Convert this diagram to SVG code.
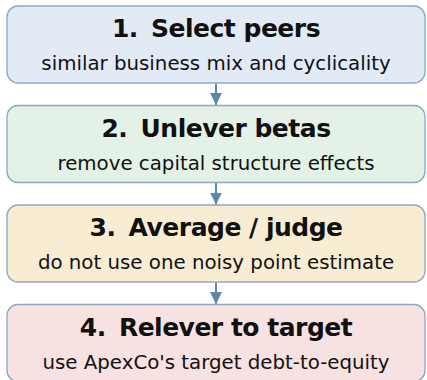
<svg xmlns="http://www.w3.org/2000/svg" width="427" height="380" viewBox="0 0 427 380">
  <style>
    .box { stroke: #8ea8c2; stroke-width: 1.3; }
    .title { font-family: "DejaVu Sans", "Liberation Sans", sans-serif; font-weight: bold; font-size: 25px; letter-spacing: -0.5px; fill: #111; text-anchor: middle; }
    .sub { font-family: "DejaVu Sans", "Liberation Sans", sans-serif; font-size: 19.8px; fill: #111; text-anchor: middle; }
    .link { stroke: #5b88a8; stroke-width: 2; fill: none; }
  </style>
  <defs>
    <marker id="head" viewBox="0 0 12 16" refX="12" refY="8" markerWidth="12" markerHeight="16" markerUnits="userSpaceOnUse" orient="auto">
      <path d="M0,2 L12,8 L0,14 Z" fill="#5b88a8"/>
    </marker>
  </defs>
  <rect width="427" height="380" fill="#ffffff"/>

  <g id="connectors">
    <line class="link" x1="216" y1="83.5" x2="216" y2="105" marker-end="url(#head)"/>
    <line class="link" x1="216" y1="183" x2="216" y2="204.5" marker-end="url(#head)"/>
    <line class="link" x1="216" y1="282.5" x2="216" y2="304" marker-end="url(#head)"/>
  </g>

  <g id="step1">
    <rect class="box" x="7" y="6" width="418" height="77" rx="11" fill="#e2eaf6"/>
    <text class="title" x="216" y="37.3">1.<tspan dx="5"> Select peers</tspan></text>
    <text class="sub" x="216" y="70">similar business mix and cyclicality</text>
  </g>

  <g id="step2">
    <rect class="box" x="7" y="105.5" width="418" height="77" rx="11" fill="#e3f1e6"/>
    <text class="title" x="216" y="136.8">2.<tspan dx="5"> Unlever betas</tspan></text>
    <text class="sub" x="216" y="169.5">remove capital structure effects</text>
  </g>

  <g id="step3">
    <rect class="box" x="7" y="205" width="418" height="77" rx="11" fill="#f8edd3"/>
    <text class="title" x="216" y="236.3">3.<tspan dx="5"> Average / judge</tspan></text>
    <text class="sub" x="216" y="269">do not use one noisy point estimate</text>
  </g>

  <g id="step4">
    <rect class="box" x="7" y="304.5" width="418" height="77" rx="11" fill="#f7e1e1"/>
    <text class="title" x="216" y="335.8">4.<tspan dx="5"> Relever to target</tspan></text>
    <text class="sub" x="216" y="368.5">use ApexCo's target debt-to-equity</text>
  </g>
</svg>
